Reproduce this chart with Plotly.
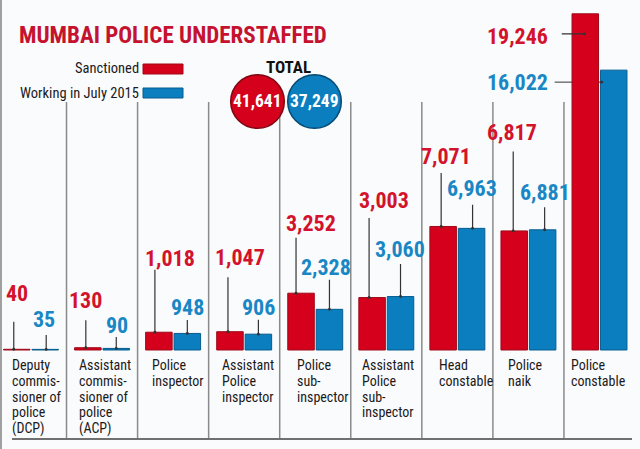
import plotly.graph_objects as go

# ---------------- data ----------------
categories = [
    "Deputy|commis-|sioner of|police|(DCP)",
    "Assistant|commis-|sioner of|police|(ACP)",
    "Police|inspector",
    "Assistant|Police|inspector",
    "Police|sub-|inspector",
    "Assistant|Police|sub-|inspector",
    "Head|constable",
    "Police|naik",
    "Police|constable",
]
sanctioned = [40, 130, 1018, 1047, 3252, 3003, 7071, 6817, 19246]
working = [35, 90, 948, 906, 2328, 3060, 6963, 6881, 16022]
totals = [41641, 37249]
series_names = ["Sanctioned", "Working in July 2015"]
title_text = "MUMBAI POLICE UNDERSTAFFED"

# ---------------- style ----------------
W, H = 640, 449
X_RANGE = [-0.436, 8.57]
Y_RANGE = [-5668, 20037]
PXX = W / (X_RANGE[1] - X_RANGE[0])      # px per x unit
PXY = H / (Y_RANGE[1] - Y_RANGE[0])      # px per y unit
RED, BLUE = "#d5001c", "#0a7ebf"
RED_EDGE, BLUE_EDGE = "#9e0a18", "#075d8e"
RED_TXT, BLUE_TXT = "#d3132b", "#1a87c5"
FONT = "'Roboto Condensed', 'Liberation Sans Narrow', Roboto, sans-serif"
BAR_OFF = [-0.2, 0.2]

red_lab = [(0, -56), (-2, -47), (11, -74), (10, -74), (10, -70), (12, -97.5), (3, -69.5), (-2, -98), (-68, 23)]
blue_lab = [(-1, -30), (1, -23), (0, -26), (0, -27), (-3.5, -42), (-0.5, -47), (0, -40), (2, -37), (-96, 12)]
red_lead = [(-3, 0, 0, -29), (-2, 0, 0, -29), (-4, 0, 0, -64), (-2, 0, 0, -56), (-5, 0, 0, -57),
            (-3, 0, 0, -81), (-2, 0, 0, -55), (-1, 0, 0, -81), (-1, 20, -24, 0)]
blue_lead = [(1, 0, 0, -16), (0, 0, 0, -13), (0, 0, 0, -15), (0, 0, 0, -16), (0, 0, 0, -31),
             (0, 0, 0, -34), (1, 0, 0, -25), (2, 0, 0, -24), (-12, 12, -47, 0)]
cat_shift = [16, 11, 13, 12, 16, 10, 16, 14, 6]


def paper(xp, yp):
    return xp / W, 1 - yp / H


fig = go.Figure()
xs = list(range(len(categories)))
fig.add_trace(go.Bar(x=xs, y=sanctioned, name=series_names[0],
                     marker=dict(color=RED, line=dict(color=RED_EDGE, width=1))))
fig.add_trace(go.Bar(x=xs, y=working, name=series_names[1],
                     marker=dict(color=BLUE, line=dict(color=BLUE_EDGE, width=1))))

ann = []
shapes = []

for i in range(len(categories) - 1):
    shapes.append(dict(type="line", xref="x", yref="paper", x0=i + 0.5, x1=i + 0.5,
                       y0=1 - 102 / H, y1=1 - 439 / H, line=dict(color="#8a8a8a", width=1.5),
                       layer="below"))
shapes.append(dict(type="line", xref="paper", yref="paper", x0=12 / W, x1=632 / W,
                   y0=1 - 439 / H, y1=1 - 439 / H, line=dict(color="#707070", width=2)))
shapes.append(dict(type="line", xref="paper", yref="paper", x0=1 / W, x1=1 / W,
                   y0=0, y1=1, line=dict(color="#a0a0a0", width=2)))

for s, (vals, labs, leads, col) in enumerate([(sanctioned, red_lab, red_lead, RED_TXT),
                                             (working, blue_lab, blue_lead, BLUE_TXT)]):
    for i, v in enumerate(vals):
        bx = i + BAR_OFF[s]
        dx, dy = labs[i]
        ann.append(dict(x=bx, y=v, xref="x", yref="y", text=f"<b>{v:,}</b>", showarrow=False,
                        xshift=dx, yshift=-dy, xanchor="center", yanchor="middle",
                        font=dict(family=FONT, size=22, color=col)))
        hdx, hdy, tax, tay = leads[i]
        hx = bx + hdx / PXX
        hy = v - hdy / PXY
        if s == 1 and tay == 0:
            shapes.append(dict(type="line", xref="x", yref="y", x0=hx + tax / PXX, x1=hx,
                               y0=hy, y1=hy, line=dict(color="#333333", width=1), layer="below"))
            ann.append(dict(x=hx, y=hy, xref="x", yref="y", text="", showarrow=True,
                            ax=-3, ay=0, arrowhead=6, arrowsize=0.6, arrowwidth=1.2,
                            arrowcolor="#333333"))
        else:
            ann.append(dict(x=hx, y=hy, xref="x", yref="y", text="", showarrow=True,
                            ax=tax, ay=tay, arrowhead=6, arrowsize=0.6, arrowwidth=1.2,
                            arrowcolor="#333333"))

for i, lab in enumerate(categories):
    for k, line in enumerate(lab.split("|")):
        ann.append(dict(x=i, y=0, xref="x", yref="y", text=line, showarrow=False,
                        xanchor="left", yanchor="middle", xshift=cat_shift[i] - 0.5 * PXX,
                        yshift=-(15 + 15.8 * k), borderpad=0,
                        font=dict(family=FONT, size=14, color="#1a1a1a")))

tx, ty = paper(17, 35.5)
ann.append(dict(x=tx, y=ty, xref="paper", yref="paper", text=f"<b>{title_text}</b>",
                showarrow=False, xanchor="left", yanchor="middle",
                font=dict(family=FONT, size=23, color="#c4122f")))

for k, (nm, col, edge) in enumerate([(series_names[0], RED, RED_EDGE), (series_names[1], BLUE, BLUE_EDGE)]):
    yc = 69 + 24 * k
    lx, ly = paper(141, yc)
    ann.append(dict(x=lx, y=ly, xref="paper", yref="paper", text=nm, showarrow=False,
                    xanchor="right", yanchor="middle",
                    font=dict(family=FONT, size=14.5, color="#1a1a1a")))
    x0, y0 = paper(143, yc - 5)
    x1, y1 = paper(183, yc + 5)
    shapes.append(dict(type="rect", xref="paper", yref="paper", x0=x0, x1=x1, y0=y1, y1=y0,
                       fillcolor=col, line=dict(color=edge, width=1)))

tx, ty = paper(288, 67)
ann.append(dict(x=tx, y=ty, xref="paper", yref="paper", text="<b>TOTAL</b>", showarrow=False,
                xanchor="center", yanchor="middle", font=dict(family=FONT, size=17, color="#111111")))
for k, (tot, col, edge, cx) in enumerate([(totals[0], RED, "#7d0812", 257.5),
                                          (totals[1], BLUE, "#064a72", 314.5)]):
    cy, r = 101.5, 26.8
    x0, y0 = paper(cx - r, cy - r)
    x1, y1 = paper(cx + r, cy + r)
    shapes.append(dict(type="circle", xref="paper", yref="paper", x0=x0, x1=x1, y0=y1, y1=y0,
                       fillcolor=col, line=dict(color=edge, width=1.5)))
    px_, py_ = paper(cx, cy)
    ann.append(dict(x=px_, y=py_, xref="paper", yref="paper", text=f"<b>{tot:,}</b>",
                    showarrow=False, xanchor="center", yanchor="middle",
                    font=dict(family=FONT, size=17.5, color="#ffffff")))

fig.update_layout(
    width=W, height=H, margin=dict(l=0, r=0, t=0, b=0),
    paper_bgcolor="#fafbfd", plot_bgcolor="#fafbfd",
    barmode="group", bargap=0.2, bargroupgap=0.067, showlegend=False,
    xaxis=dict(range=X_RANGE, visible=False, fixedrange=True),
    yaxis=dict(range=Y_RANGE, visible=False, fixedrange=True),
    annotations=ann, shapes=shapes,
)
fig.write_html("out.html")
